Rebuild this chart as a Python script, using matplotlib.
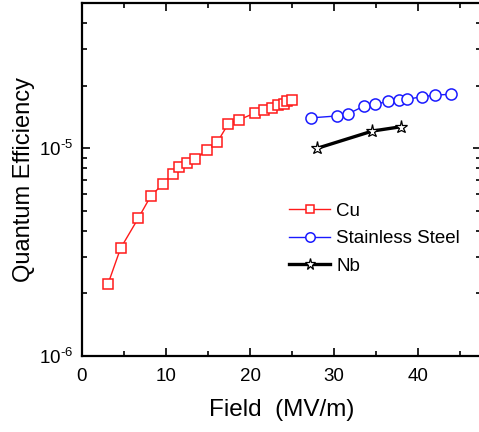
"""Quantum efficiency vs field for Cu, stainless steel and Nb cathodes."""

import matplotlib

matplotlib.use("Agg")
import matplotlib.pyplot as plt
from matplotlib.ticker import FixedLocator, LogLocator, NullFormatter

plt.rcParams["font.family"] = ["Liberation Sans", "DejaVu Sans"]
plt.rcParams["mathtext.fontset"] = "custom"
plt.rcParams["mathtext.rm"] = "Liberation Sans"

cu_field = [3.1, 4.6, 6.7, 8.2, 9.6, 10.8, 11.6, 12.5, 13.5, 14.85, 16.1,
            17.4, 18.7, 20.6, 21.6, 22.6, 23.3, 24.0, 24.4, 25.0]
cu_qe = [2.22e-6, 3.3e-6, 4.6e-6, 5.9e-6, 6.7e-6, 7.55e-6, 8.1e-6, 8.5e-6,
         8.9e-6, 9.8e-6, 1.07e-5, 1.31e-5, 1.37e-5, 1.48e-5, 1.52e-5,
         1.57e-5, 1.62e-5, 1.64e-5, 1.69e-5, 1.71e-5]
ss_field = [27.25, 30.3, 31.6, 33.6, 34.8, 36.45, 37.65, 38.7, 40.4, 41.95,
            43.9]
ss_qe = [1.40e-5, 1.43e-5, 1.46e-5, 1.60e-5, 1.63e-5, 1.68e-5, 1.70e-5,
         1.72e-5, 1.77e-5, 1.80e-5, 1.82e-5]
nb_field = [28.0, 34.55, 38.0]
nb_qe = [1.0e-5, 1.21e-5, 1.27e-5]

fig = plt.figure(figsize=(4.79, 4.32), dpi=100)
ax = fig.add_axes([0.171, 0.176, 0.834, 0.817])

ax.plot(cu_field, cu_qe, color="#ff1a1a", lw=1.0, marker="s", ms=6.5,
        mfc="white", mec="#ff1a1a", mew=1.1, label="Cu")
ax.plot(ss_field, ss_qe, color="#1a1aff", lw=1.0, marker="o", ms=8,
        mfc="white", mec="#1a1aff", mew=1.1, label="Stainless Steel")
ax.plot(nb_field, nb_qe, color="black", lw=2.4, marker="*", ms=9.5,
        mfc="white", mec="black", mew=0.9, label="Nb")

ax.set_yscale("log")
ax.set_xlim(0, 47.5)
ax.set_ylim(1e-6, 5e-5)

ax.xaxis.set_major_locator(FixedLocator([0, 10, 20, 30, 40]))
ax.xaxis.set_minor_locator(FixedLocator([5, 15, 25, 35, 45]))
ax.yaxis.set_major_locator(FixedLocator([1e-6, 1e-5]))
ax.yaxis.set_minor_locator(LogLocator(base=10, subs=range(2, 10)))
ax.yaxis.set_minor_formatter(NullFormatter())
ax.set_yticklabels([r"$\mathregular{10^{-6}}$".replace("-", "\u2010"),
                    r"$\mathregular{10^{-5}}$".replace("-", "\u2010")],
                   fontsize=14.5)

ax.tick_params(which="both", direction="in", top=True, right=True,
               width=1.2, labelsize=13.5)
ax.tick_params(axis="x", pad=9)
ax.tick_params(axis="y", pad=6)
ax.tick_params(which="major", length=6)
ax.tick_params(which="minor", length=3.5)
for sp in ax.spines.values():
    sp.set_linewidth(1.6)

ax.set_xlabel("Field  (MV/m)", fontsize=17.5, labelpad=10)
ax.set_ylabel("Quantum Efficiency", fontsize=17, labelpad=3)

ax.legend(loc="upper left", bbox_to_anchor=(0.5, 0.455), frameon=False,
          fontsize=13.5, numpoints=1, handlelength=2.2, handletextpad=0.3,
          labelspacing=0.55, borderaxespad=0, markerscale=0.85)

fig.savefig("out.png", dpi=100)
